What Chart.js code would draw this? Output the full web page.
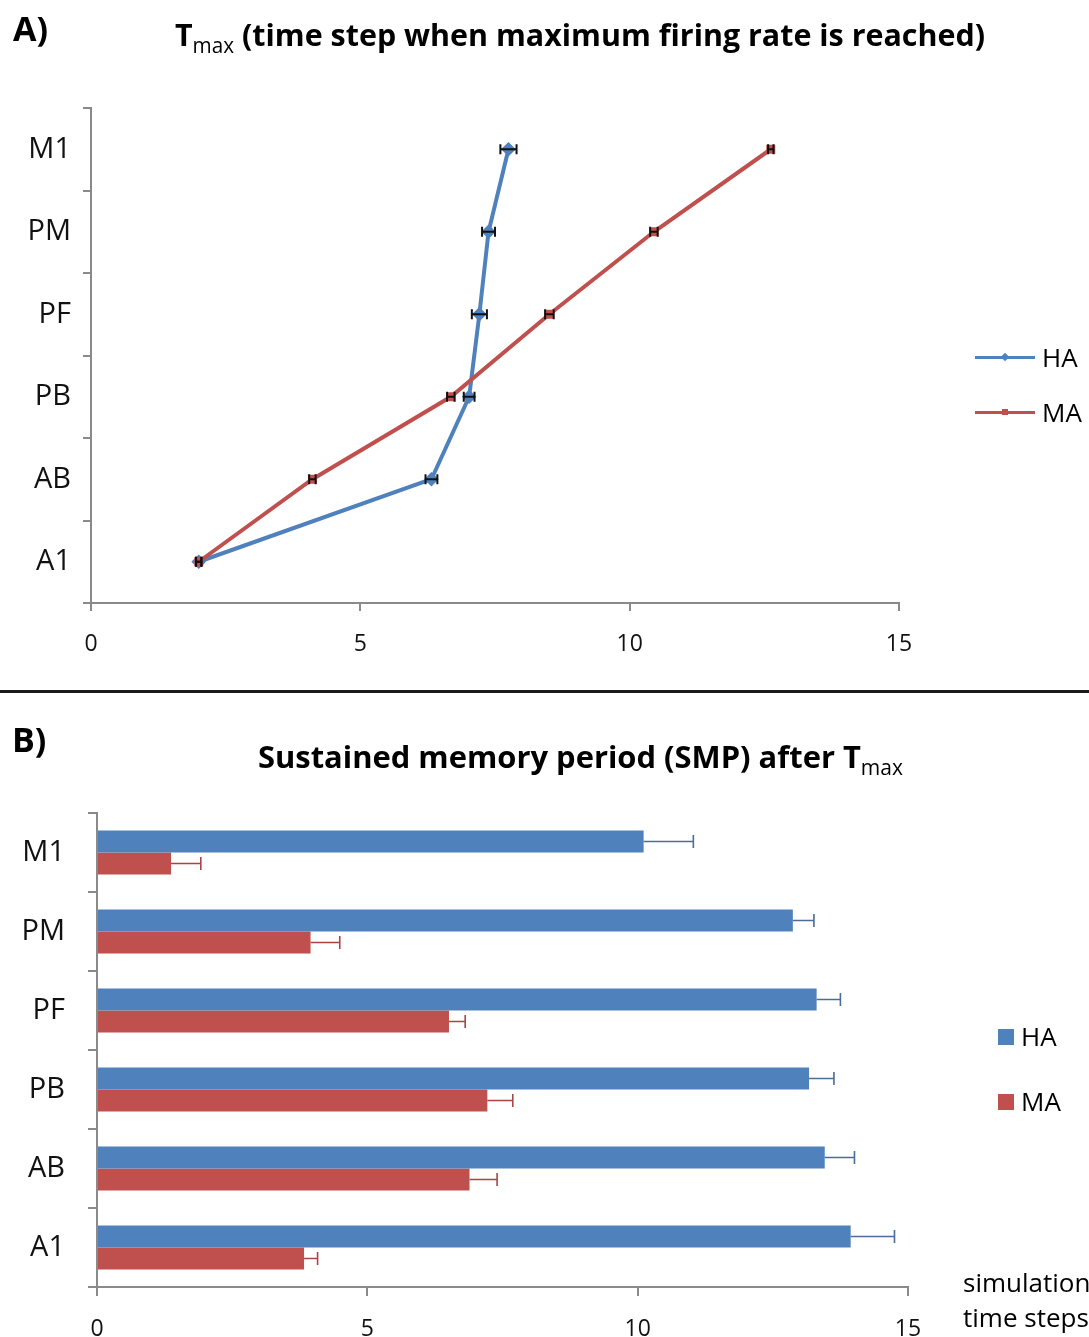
<!DOCTYPE html>
<html>
<head>
<meta charset="utf-8">
<script src="https://cdn.jsdelivr.net/npm/chart.js@4.4.1/dist/chart.umd.min.js"></script>
<style>
	body { margin: 0; width: 1089px; height: 1337px; overflow: hidden; background: #fff; position: relative; font-family: "Open Sans", sans-serif; color: #000; }
	canvas { position: absolute; left: 0; }
	#chartA { top: 0; }
	#chartB { top: 695px; }
	.panel { position: absolute; font-weight: bold; font-size: 34px; line-height: 1; font-family: "Liberation Sans Narrow", "Open Sans", sans-serif; }
	.title { position: absolute; white-space: nowrap; font-weight: bold; font-size: 31px; line-height: 1; font-family: "Liberation Sans Narrow", "Open Sans", sans-serif; transform-origin: left center; }
	.title sub { font-size: 0.68em; vertical-align: -0.35em; line-height: 0; font-weight: normal; }
	.separator { position: absolute; left: 0; top: 690px; width: 1089px; height: 3px; background: #1a1a1a; }
	.lg { position: absolute; font-size: 26px; line-height: 1; white-space: nowrap; }
	.lg-line { position: absolute; height: 3px; width: 60px; }
	.lg-mark { position: absolute; width: 6px; height: 6px; }
	.lg-box { position: absolute; width: 16px; height: 16px; }
	.axis-note { position: absolute; left: 963px; top: 1265px; font-size: 26px; line-height: 35px; white-space: nowrap; }
</style>
</head>
<body>
<canvas id="chartA" width="1089" height="690"></canvas>
<canvas id="chartB" width="1089" height="642"></canvas>

<div class="panel" style="left:13px; top:11px;">A)</div>
<div class="title" id="titleA" style="left:175px; top:19px;">T<sub>max</sub> (time step when maximum firing rate is reached)</div>
<div class="separator"></div>
<div class="panel" style="left:12px; top:722px;">B)</div>
<div class="title" id="titleB" style="left:258px; top:741px;">Sustained memory period (SMP) after T<sub>max</sub></div>

<!-- legend A -->
<div class="lg-line" style="left:975px; top:356px; background:#4F81BD;"></div>
<div class="lg-mark" style="left:1002px; top:354px; background:#4F81BD; transform:rotate(45deg);"></div>
<div class="lg" style="left:1042px; top:344px;">HA</div>
<div class="lg-line" style="left:975px; top:411px; background:#C0504D;"></div>
<div class="lg-mark" style="left:1002px; top:409px; background:#C0504D;"></div>
<div class="lg" style="left:1042px; top:399px;">MA</div>

<!-- legend B -->
<div class="lg-box" style="left:998px; top:1029px; background:#4F81BD;"></div>
<div class="lg" style="left:1021px; top:1023px;">HA</div>
<div class="lg-box" style="left:998px; top:1094px; background:#C0504D;"></div>
<div class="lg" style="left:1021px; top:1088px;">MA</div>

<div class="axis-note">simulation<br>time steps</div>

<script>
const regions = ["M1", "PM", "PF", "PB", "AB", "A1"];
const xTicks = [0, 5, 10, 15];

// panel A: Tmax
const tmaxHA = [7.75, 7.38, 7.21, 7.02, 6.32, 2.0];
const tmaxHAErr = [0.15, 0.12, 0.14, 0.1, 0.11, 0.05];
const tmaxMA = [12.62, 10.45, 8.51, 6.68, 4.11, 2.0];
const tmaxMAErr = [0.05, 0.07, 0.08, 0.07, 0.06, 0.05];

// panel B: SMP after Tmax
const smpHA = [10.11, 12.87, 13.31, 13.17, 13.46, 13.94];
const smpHAErr = [0.92, 0.39, 0.44, 0.46, 0.55, 0.81];
const smpMA = [1.37, 3.95, 6.51, 7.22, 6.89, 3.83];
const smpMAErr = [0.55, 0.54, 0.3, 0.47, 0.51, 0.25];

const blue = "#4F81BD";
const red = "#C0504D";
const axisGray = "#8a8a8a";

// draws horizontal error bars using the x scale
const errorBars = {
	id: "errorBars",
	afterDatasetsDraw(chart) {
		const ctx = chart.ctx;
		const xScale = chart.scales.x;
		chart.data.datasets.forEach((ds, i) => {
			if (!ds.errors) return;
			const meta = chart.getDatasetMeta(i);
			ctx.save();
			ctx.strokeStyle = ds.errorColor;
			ctx.lineWidth = ds.errorWidth;
			meta.data.forEach((el, j) => {
				const v = ds.data[j];
				const e = ds.errors[j];
				const lo = xScale.getPixelForValue(ds.errorBoth ? v - e : v);
				const hi = xScale.getPixelForValue(v + e);
				const y = el.y;
				const c = ds.errorCap;
				ctx.beginPath();
				ctx.moveTo(lo, y);
				ctx.lineTo(hi, y);
				ctx.moveTo(hi, y - c);
				ctx.lineTo(hi, y + c);
				if (ds.errorBoth) {
					ctx.moveTo(lo, y - c);
					ctx.lineTo(lo, y + c);
				}
				ctx.stroke();
			});
			ctx.restore();
		});
	},
};

function axisOptions(extra) {
	return Object.assign({
		grid: { drawOnChartArea: false, color: axisGray, lineWidth: 2, tickLength: 8 },
		border: { display: true, color: axisGray, width: 2 },
	}, extra);
}

new Chart(document.getElementById("chartA"), {
	type: "line",
	data: {
		labels: regions,
		datasets: [
			{
				label: "HA",
				data: tmaxHA,
				errors: tmaxHAErr,
				errorBoth: true,
				errorColor: "#111",
				errorWidth: 2,
				errorCap: 5,
				borderColor: blue,
				backgroundColor: blue,
				borderWidth: 4,
				pointStyle: "rectRot",
				pointRadius: 4.5,
				order: 2,
			},
			{
				label: "MA",
				data: tmaxMA,
				errors: tmaxMAErr,
				errorBoth: true,
				errorColor: "#111",
				errorWidth: 2,
				errorCap: 5,
				borderColor: red,
				backgroundColor: red,
				borderWidth: 4,
				pointStyle: "rect",
				pointRadius: 3.5,
				order: 1,
			},
		],
	},
	options: {
		responsive: false,
		animation: false,
		indexAxis: "y",
		layout: { padding: { left: 0, top: 108, right: 190, bottom: 0 } },
		plugins: { legend: { display: false }, tooltip: { enabled: false } },
		scales: {
			x: axisOptions({
				type: "linear",
				min: 0,
				max: 15,
				afterFit: (s) => { s.height = 87; },
				afterBuildTicks: (s) => { s.ticks = xTicks.map((v) => ({ value: v })); },
				ticks: { color: "#111", padding: 20, font: { family: "Open Sans", size: 23 } },
			}),
			y: axisOptions({
				type: "category",
				offset: true,
				afterFit: (s) => { s.width = 91; },
				grid: { offset: true, drawOnChartArea: false, color: axisGray, lineWidth: 2, tickLength: 8 },
				ticks: { color: "#111", padding: 12, font: { family: "Open Sans", size: 29 } },
			}),
		},
	},
	plugins: [errorBars],
});

new Chart(document.getElementById("chartB"), {
	type: "bar",
	data: {
		labels: regions,
		datasets: [
			{
				label: "HA",
				data: smpHA,
				errors: smpHAErr,
				errorColor: "#4a6c96",
				errorWidth: 1.6,
				errorCap: 6.5,
				backgroundColor: blue,
			},
			{
				label: "MA",
				data: smpMA,
				errors: smpMAErr,
				errorColor: "#a84643",
				errorWidth: 1.6,
				errorCap: 6.5,
				backgroundColor: red,
			},
		],
	},
	options: {
		responsive: false,
		animation: false,
		indexAxis: "y",
		categoryPercentage: 0.56,
		barPercentage: 1,
		layout: { padding: { left: 0, top: 118, right: 181, bottom: 0 } },
		plugins: { legend: { display: false }, tooltip: { enabled: false } },
		scales: {
			x: axisOptions({
				type: "linear",
				min: 0,
				max: 15,
				afterFit: (s) => { s.height = 50; },
				afterBuildTicks: (s) => { s.ticks = xTicks.map((v) => ({ value: v })); },
				grid: { drawOnChartArea: false, color: axisGray, lineWidth: 2, tickLength: 9 },
				ticks: { color: "#111", padding: 20, font: { family: "Open Sans", size: 23 } },
			}),
			y: axisOptions({
				type: "category",
				afterFit: (s) => { s.width = 97; },
				grid: { offset: true, drawOnChartArea: false, color: axisGray, lineWidth: 2, tickLength: 9 },
				ticks: { color: "#111", padding: 23, font: { family: "Open Sans", size: 29 } },
			}),
		},
	},
	plugins: [errorBars],
});

// stretch the titles to the width they have in the figure
function fitWidth(id, target) {
	const el = document.getElementById(id);
	const w = el.getBoundingClientRect().width;
	el.style.transform = `scaleX(${target / w})`;
}
fitWidth("titleA", 810);
fitWidth("titleB", 645);
</script>
</body>
</html>
